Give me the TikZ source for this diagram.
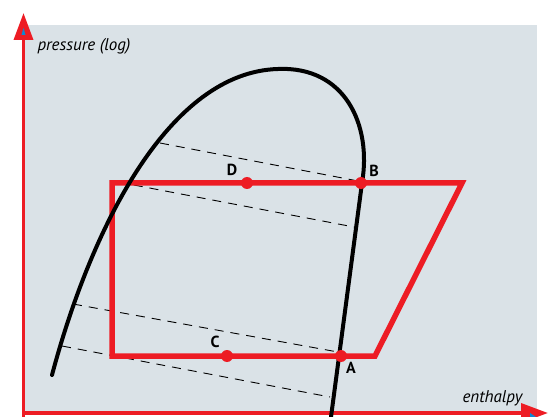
\documentclass[tikz,border=0pt]{standalone}
\usepackage{fontspec}
\setmainfont{PT Sans}
\usepackage{xcolor}
\usetikzlibrary{arrows.meta,calc}
\definecolor{panel}{RGB}{218,226,231}
\definecolor{cyclered}{RGB}{237,28,36}

\begin{document}
\begin{tikzpicture}[x=1pt,y=-1pt]
        \tikzset{axis/.style={cyclered, line width=3.5pt, -{Triangle[length=27pt, width=19pt]}},
                 cyclepath/.style={cyclered, line width=5.5pt, line join=miter},
                 dome/.style={black, line width=4pt, line cap=round},
                 quality/.style={black, line width=0.9pt, dash pattern=on 9pt off 7pt},
                 statedot/.style={circle, fill=cyclered, inner sep=0pt, minimum size=12pt},
                 tag/.style={font=\bfseries\fontsize{16}{16}\selectfont},
                 axlabel/.style={font=\itshape\fontsize{17}{17}\selectfont, anchor=base west}}
        \useasboundingbox (0,0) rectangle (552,417);
        % background panel
        \fill[panel] (25,25) rectangle (537,413);
        
        % axes
        \coordinate (origin) at (23.5,417);
        \coordinate (ptop) at (23.5,13);
        \coordinate (hleft) at (22,413);
        \coordinate (hright) at (548,413);
        \draw[axis] (origin) -- (ptop);
        \draw[axis] (hleft) -- (hright);
        \fill[cyan!70!blue] (21.5,35) -- (25.5,35) -- (23.5,28) -- cycle;
        \fill[cyan!70!blue] (530,417) -- (530,413) -- (536,417) -- cycle;
        \node[axlabel] (plabel) at (34,51) {pressure (log)};
        \node[axlabel] (hlabel) at (459,402) {enthalpy};
        
        % lines of constant quality
        \coordinate (q1l) at (160,143); \coordinate (q1r) at (358,181);
        \coordinate (q2l) at (118,182); \coordinate (q2r) at (354,227);
        \coordinate (q3l) at (73,304);  \coordinate (q3r) at (338,352);
        \coordinate (q4l) at (62,346);  \coordinate (q4r) at (330,397);
        \foreach \i in {1,...,4}
            \draw[quality] (q\i l) -- (q\i r);
        
        % refrigeration cycle
        \coordinate (tl) at (112,183);
        \coordinate (tr) at (462,183);
        \coordinate (br) at (375,356);
        \coordinate (bl) at (112,356);
        \draw[cyclepath] (tl) -- (tr) -- (br) -- (bl) -- cycle;
        
        % saturation dome
        \coordinate (liq) at (52,375);
        \coordinate (crit) at (278,69);
        \coordinate (vap) at (362,183);
        \coordinate (vapend) at (331,417);
        \draw[dome] (liq) .. controls (92,225) and (170,72) .. (crit)
                          .. controls (345,66) and (372,125) .. (vap) -- (vapend);
        
        % state points
        \node[statedot] (D) at (247,183) {};
        \node[statedot] (B) at (361,183) {};
        \node[statedot] (C) at (227,356) {};
        \node[statedot] (A) at (341,356) {};
        \node[tag] (Dtag) at (232,170) {D};
        \node[tag] (Btag) at (374,171) {B};
        \node[tag] (Ctag) at (215,342) {C};
        \node[tag] (Atag) at (351,368) {A};
\end{tikzpicture}
\end{document}
